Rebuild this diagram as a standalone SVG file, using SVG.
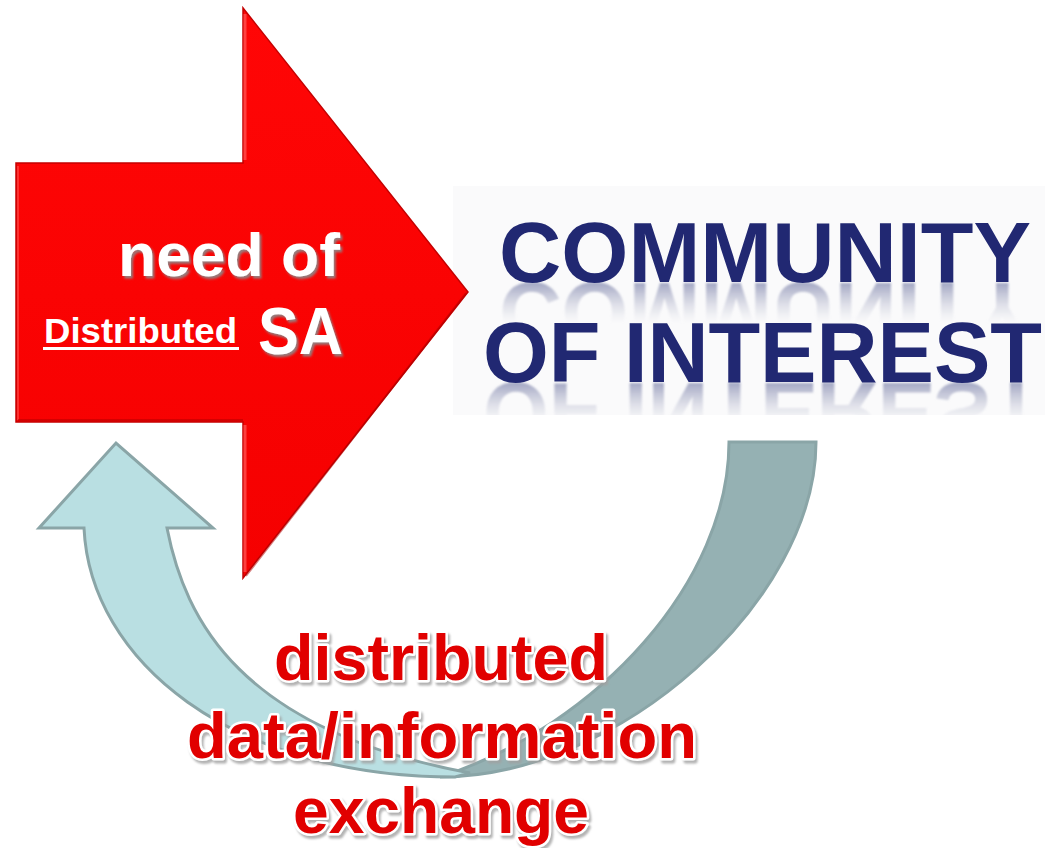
<svg xmlns="http://www.w3.org/2000/svg" width="1045" height="848" viewBox="0 0 1045 848">
  <defs>
    <style>
      .sans { font-family: "Liberation Sans", Arial, sans-serif; font-weight: bold; }
      .white-txt { fill: #ffffff; }
      .coi { fill: #212872; font-size: 85px; }
      .bottom-txt { fill: #e10000; stroke: #ffffff; stroke-width: 5; paint-order: stroke; stroke-linejoin: round; font-size: 64px; }
      .band { stroke: #8aa5a7; stroke-width: 3; stroke-linejoin: miter; }
    </style>
    <filter id="bevel" x="-10%" y="-20%" width="120%" height="150%">
      <feDropShadow dx="2" dy="2.5" stdDeviation="0.8" flood-color="#8a8a8a" flood-opacity="0.9"/>
    </filter>
    <filter id="softShadow" x="-10%" y="-20%" width="120%" height="150%">
      <feDropShadow dx="2" dy="3" stdDeviation="1.2" flood-color="#a0a0a0" flood-opacity="0.8"/>
    </filter>
    <filter id="blurRefl" x="-5%" y="-20%" width="110%" height="140%">
      <feGaussianBlur stdDeviation="1.2"/>
    </filter>
    <linearGradient id="refl1" gradientUnits="userSpaceOnUse" x1="0" y1="283" x2="0" y2="243">
      <stop offset="0" stop-color="#8e93b6" stop-opacity="0.8"/>
      <stop offset="1" stop-color="#c8cad8" stop-opacity="0"/>
    </linearGradient>
    <linearGradient id="refl2" gradientUnits="userSpaceOnUse" x1="0" y1="383" x2="0" y2="343">
      <stop offset="0" stop-color="#8e93b6" stop-opacity="0.8"/>
      <stop offset="1" stop-color="#c8cad8" stop-opacity="0"/>
    </linearGradient>
    <linearGradient id="redGrad" x1="0" y1="0" x2="0" y2="1">
      <stop offset="0" stop-color="#ff0606"/>
      <stop offset="1" stop-color="#f50000"/>
    </linearGradient>
    <clipPath id="coiClip">
      <rect x="453" y="186" width="592" height="229"/>
    </clipPath>
  </defs>

  <rect width="1045" height="848" fill="#ffffff"/>

  <!-- Community of interest image -->
  <g id="coi">
    <rect x="453" y="186" width="592" height="229" fill="#fafafb"/>
    <g clip-path="url(#coiClip)">
      <g filter="url(#blurRefl)">
        <text class="sans" font-size="85" x="499" y="283" textLength="532" lengthAdjust="spacingAndGlyphs" transform="translate(0,566) scale(1,-1)" fill="url(#refl1)">COMMUNITY</text>
        <text class="sans" font-size="85" x="483" y="383" textLength="559" lengthAdjust="spacingAndGlyphs" transform="translate(0,766) scale(1,-1)" fill="url(#refl2)">OF INTEREST</text>
      </g>
      <text class="sans coi" x="499" y="282" textLength="532" lengthAdjust="spacingAndGlyphs">COMMUNITY</text>
      <text class="sans coi" x="483" y="382" textLength="559" lengthAdjust="spacingAndGlyphs">OF INTEREST</text>
    </g>
  </g>

  <!-- Curved return arrow -->
  <g id="connectors">
    <path class="band" fill="#95b1b3" d="M729,442 L816,442 C816,600 620,777 440,777 C600,725 729,580 729,442 Z"/>
    <path class="band" fill="#b9dfe2" d="M84,528 L39,528 L116,443 L213,528 L167,528 C185,620 240,730 470,773 L455,777 C230,777 90,660 84,528 Z"/>
  </g>

  <!-- Red arrow node -->
  <g id="need-sa">
    <path d="M16,163 L243,163 L243,8 L468,292 L243,578 L243,422 L16,422 Z" fill="url(#redGrad)" stroke="#c40000" stroke-width="1.5" stroke-linejoin="miter"/>
    <path d="M245,14 L245,160 M245,425 L245,572" stroke="#ff5a5a" stroke-width="3" opacity="0.7"/>
    <path d="M18,166 L18,420" stroke="#ff5050" stroke-width="2" opacity="0.6"/>
    <path d="M18,420 L243,420 M246,576 L466,293" stroke="#b00000" stroke-width="2" opacity="0.5" fill="none"/>
    <g filter="url(#bevel)">
      <text class="sans white-txt" font-size="62" x="118" y="276" textLength="222" lengthAdjust="spacingAndGlyphs">need of</text>
      <text class="sans white-txt" font-size="67" x="258" y="354" textLength="85" lengthAdjust="spacingAndGlyphs">SA</text>
    </g>
    <text class="sans white-txt" font-size="35" x="44" y="343" textLength="193" lengthAdjust="spacingAndGlyphs">Distributed</text>
    <rect x="43" y="347" width="196" height="3" fill="#ffffff"/>
  </g>

  <!-- Bottom label -->
  <g id="exchange-label" text-anchor="middle" filter="url(#softShadow)">
    <text class="sans bottom-txt" x="441" y="680" textLength="334" lengthAdjust="spacingAndGlyphs">distributed</text>
    <text class="sans bottom-txt" x="442" y="758" textLength="510" lengthAdjust="spacingAndGlyphs">data/information</text>
    <text class="sans bottom-txt" x="441" y="833" textLength="296" lengthAdjust="spacingAndGlyphs">exchange</text>
  </g>
</svg>
